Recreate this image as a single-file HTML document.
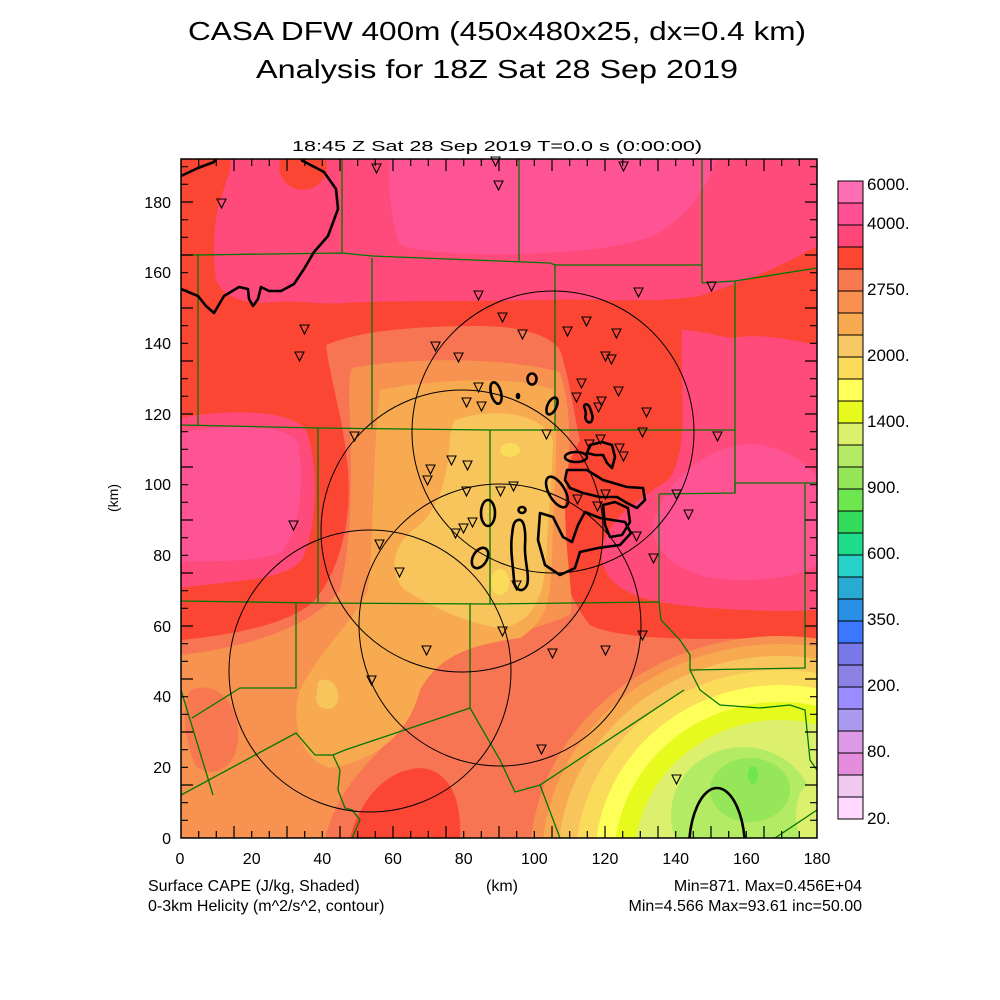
<!DOCTYPE html>
<html><head><meta charset="utf-8"><style>
html,body{margin:0;padding:0;background:#fff;width:1000px;height:1000px;overflow:hidden;}
svg{display:block;}
text{font-family:"Liberation Sans",sans-serif;fill:#000;}
</style></head><body>
<svg width="1000" height="1000" viewBox="0 0 1000 1000" xmlns="http://www.w3.org/2000/svg">
<rect width="1000" height="1000" fill="#fff"/>
<text x="497" y="40" font-size="26" text-anchor="middle" textLength="618" lengthAdjust="spacingAndGlyphs">CASA DFW 400m (450x480x25, dx=0.4 km)</text>
<text x="497" y="78" font-size="26" text-anchor="middle" textLength="482" lengthAdjust="spacingAndGlyphs">Analysis for 18Z Sat 28 Sep 2019</text>
<text x="497" y="151" font-size="15" text-anchor="middle" textLength="410" lengthAdjust="spacingAndGlyphs">18:45 Z Sat 28 Sep 2019    T=0.0 s (0:00:00)</text>
<defs><clipPath id="pc"><rect x="181" y="159" width="636" height="679"/></clipPath></defs>
<g clip-path="url(#pc)">
<rect x="181" y="159" width="636" height="679" fill="#fc4634"/>
<path fill="#ff4a7c" d="M230,159 H817 V246 C790,262 750,280 700,296 C650,304 600,298 540,300 C460,302 400,300 345,303 C320,305 300,300 275,302 C250,305 225,300 216,280 C212,250 214,215 222,195 C226,180 232,170 230,159 Z"/>
<ellipse cx="303" cy="166" rx="24" ry="24" fill="#fc4634"/>
<path fill="#ff4a7c" d="M733,338 C760,332 800,342 817,345 V610 C780,612 720,610 680,605 C640,600 608,590 602,560 C600,520 640,500 668,480 C690,450 680,400 682,330 C700,330 715,336 733,338 Z"/>
<path fill="#ff4a7c" d="M181,418 C220,410 290,408 306,430 C320,470 316,530 302,560 C282,582 230,580 181,588 Z"/>
<path fill="#ff5494" d="M389,159 H717 C705,190 690,215 653,236 C630,244 600,250 560,252 C500,256 430,255 400,245 C390,220 389,190 389,159 Z"/>
<path fill="#ff5494" d="M753,444 C790,448 817,470 817,480 V565 C800,577 760,582 720,579 C680,575 650,550 653,526 C660,490 700,445 753,444 Z"/>
<path fill="#ff5494" d="M181,432 C220,426 280,420 298,442 C305,480 300,530 282,552 C250,564 210,560 181,562 Z"/>
<path fill="#f77552" d="M181,640 C230,635 290,625 315,600 C340,570 352,520 348,470 C344,420 330,380 326,345 C360,330 420,326 480,326 C520,326 550,335 560,350 C570,380 575,420 580,440 C565,470 553,500 555,530 C560,570 570,600 590,625 C620,640 700,640 760,638 L817,640 V838 H460 C462,800 450,770 420,768 C385,770 360,800 350,838 H181 Z"/>
<path fill="#f89250" d="M181,655 C240,648 310,630 340,590 C352,540 352,480 350,420 C349,395 348,380 352,368 C400,358 500,356 560,372 C575,420 568,470 565,500 C565,560 575,600 570,615 C540,628 490,640 450,655 C420,680 400,720 380,750 C355,775 335,800 325,838 H181 Z"/>
<path fill="#f77552" d="M190,690 C215,680 240,700 238,740 C236,770 210,780 195,765 C185,740 180,710 190,690 Z" opacity="0.9"/>
<path fill="#f8aa50" d="M380,390 C440,378 520,376 553,390 C560,440 553,500 552,560 C550,600 548,620 520,638 C470,645 440,655 420,690 C410,730 380,760 330,768 C300,760 290,720 300,690 C320,650 355,620 368,590 C374,540 372,460 380,390 Z"/>
<path fill="#f8c45c" d="M455,420 C490,408 540,410 553,440 C552,480 548,520 546,560 C544,600 530,625 500,628 C460,622 430,605 405,590 C385,570 395,540 420,525 C440,505 445,480 448,460 C450,440 450,428 455,420 Z"/>
<path fill="#f8c45c" d="M318,682 C328,675 340,685 338,700 C335,712 320,712 316,700 Z"/>
<ellipse cx="510" cy="450" rx="10" ry="7" fill="#fadc5a"/>
<ellipse cx="500" cy="582" rx="9" ry="13" fill="#fadc5a"/>
<g>
<ellipse cx="780" cy="860" rx="250" ry="224" fill="#f89250"/>
<ellipse cx="780" cy="860" rx="238" ry="216" fill="#f8aa50"/>
<ellipse cx="780" cy="860" rx="222" ry="204" fill="#f8c45c"/>
<ellipse cx="780" cy="860" rx="204" ry="190" fill="#fadc5a"/>
<ellipse cx="780" cy="860" rx="185" ry="175" fill="#ffff5a"/>
<ellipse cx="780" cy="860" rx="166" ry="158" fill="#e6fa1e"/>
<ellipse cx="780" cy="860" rx="146" ry="140" fill="#dcf06e"/>
</g>
<ellipse cx="743" cy="815" rx="72" ry="68" fill="#b4eb64"/>
<ellipse cx="750" cy="790" rx="40" ry="32" fill="#96e65a"/>
<ellipse cx="753" cy="775" rx="5" ry="9" fill="#6ee650"/>
<ellipse cx="810" cy="815" rx="14" ry="30" fill="#dcf06e"/>
<g fill="none" stroke="#007800" stroke-width="1.3">
<path d="M342,159 V253 M519,159 V262 M702,159 V283"/>
<path d="M181,255 H198 L342,253 L372,256 L550,263 L555,265 L702,265"/>
<path d="M702,283 L735,281 L817,268"/>
<path d="M198,254 V425 M372,258 V428 M555,265 V430 M735,281 V493"/>
<path d="M181,425 L318,428 L490,430 L555,430 L735,430"/>
<path d="M659,494 L735,493 L735,483 L805,483 L817,483 M805,483 V668 L690,670"/>
<path d="M318,428 V602 M490,430 V604 M659,494 V602"/>
<path d="M181,601 L318,603 L490,604 L659,602 L661,620 L680,640 L690,655 L690,670 L700,690 L720,705 L760,708 L790,705 L805,710 L810,760 L817,770"/>
<path d="M470,604 V708 L345,750 L333,755 L315,755 L296,733 L181,795"/>
<path d="M296,603 V688 L240,688 L192,718"/>
<path d="M181,690 L213,795"/>
<path d="M470,708 L500,760 L515,792 L540,785 L684,690"/>
<path d="M333,755 L340,770 L338,790 L345,808 L352,810 L360,820 L352,838"/>
<path d="M540,785 L560,838"/>
<path d="M775,838 L817,810"/>
</g>
<g fill="none" stroke="#000" stroke-width="1">
<circle cx="553" cy="432" r="141"/>
<circle cx="462" cy="531" r="141"/>
<circle cx="500" cy="625" r="141"/>
<circle cx="370" cy="671" r="141"/>
</g>
<g fill="none" stroke="#000" stroke-width="2.6" stroke-linejoin="round">
<path d="M181,176 L198,168 L214,162 L216,159"/>
<path d="M301,160 L324,172 L336,189 L338,209 L328,236 L314,252 L304,269 L294,284 L281,291 L269,291 L261,287 L258,299 L253,306 L249,299 L248,289 L239,287 L224,296 L214,313 L206,306 L198,296 L181,289"/>
<ellipse cx="532" cy="379" rx="4.5" ry="5.5"/>
<ellipse cx="496" cy="393" rx="5" ry="11" transform="rotate(-15 496 393)"/>
<ellipse cx="552" cy="406" rx="4.5" ry="9" transform="rotate(25 552 406)"/>
<ellipse cx="518" cy="396" rx="1" ry="2"/>
<path d="M585,409 C582,404 588,402 590,408 C592,414 594,418 591,422 C587,424 584,418 586,414 Z"/>
<ellipse cx="576" cy="457" rx="11" ry="5"/>
<path d="M587,453 L590,445 L602,442 L612,445 L615,457 L612,468 L607,463 L603,455 L595,455 Z"/>
<path d="M567,470 L587,470 L603,480 L627,487 L643,488 L645,500 L637,508 L627,503 L617,497 L600,497 L583,493 L570,488 L565,480 Z"/>
<ellipse cx="557" cy="492" rx="8" ry="17" transform="rotate(-30 557 492)"/>
<path d="M540,513 L553,517 L563,537 L572,542 L578,525 L585,512 L600,518 L625,522 L631,533 L620,545 L598,548 L580,552 L575,568 L560,575 L545,565 L538,540 Z"/>
<path d="M603,505 L615,502 L628,508 L630,522 L622,535 L610,537 L605,525 Z"/>
<ellipse cx="488" cy="513" rx="7" ry="13"/>
<ellipse cx="480" cy="558" rx="7" ry="11" transform="rotate(30 480 558)"/>
<path d="M518,520 C524,518 526,530 525,545 C524,560 530,575 527,585 C523,594 514,590 514,580 C513,565 510,550 512,535 C513,525 514,521 518,520 Z"/>
<ellipse cx="522" cy="510" rx="3.5" ry="3"/>
<ellipse cx="717" cy="850" rx="28" ry="62"/>
</g>
</g>
<g fill="none" stroke="#000" stroke-width="1.1">
<path d="M372,164 h9 l-4.5,9 z M491,157 h9 l-4.5,9 z M494,181 h9 l-4.5,9 z M619,162 h9 l-4.5,9 z M217,199 h9 l-4.5,9 z M474,291 h9 l-4.5,9 z M498,313 h9 l-4.5,9 z M518,330 h9 l-4.5,9 z M563,327 h9 l-4.5,9 z M582,317 h9 l-4.5,9 z M612,329 h9 l-4.5,9 z M634,288 h9 l-4.5,9 z M707,282 h9 l-4.5,9 z M300,325 h9 l-4.5,9 z M295,352 h9 l-4.5,9 z M431,342 h9 l-4.5,9 z M454,353 h9 l-4.5,9 z M601,352 h9 l-4.5,9 z M607,355 h9 l-4.5,9 z M577,379 h9 l-4.5,9 z M614,387 h9 l-4.5,9 z M572,393 h9 l-4.5,9 z M474,383 h9 l-4.5,9 z M462,398 h9 l-4.5,9 z M477,402 h9 l-4.5,9 z M597,397 h9 l-4.5,9 z M594,403 h9 l-4.5,9 z M642,408 h9 l-4.5,9 z M542,430 h9 l-4.5,9 z M638,428 h9 l-4.5,9 z M713,432 h9 l-4.5,9 z M350,432 h9 l-4.5,9 z M585,440 h9 l-4.5,9 z M596,435 h9 l-4.5,9 z M615,444 h9 l-4.5,9 z M619,452 h9 l-4.5,9 z M447,456 h9 l-4.5,9 z M463,461 h9 l-4.5,9 z M426,465 h9 l-4.5,9 z M423,476 h9 l-4.5,9 z M462,487 h9 l-4.5,9 z M496,487 h9 l-4.5,9 z M509,482 h9 l-4.5,9 z M573,495 h9 l-4.5,9 z M601,490 h9 l-4.5,9 z M593,502 h9 l-4.5,9 z M672,490 h9 l-4.5,9 z M684,510 h9 l-4.5,9 z M632,532 h9 l-4.5,9 z M649,554 h9 l-4.5,9 z M289,521 h9 l-4.5,9 z M375,540 h9 l-4.5,9 z M395,568 h9 l-4.5,9 z M468,518 h9 l-4.5,9 z M459,524 h9 l-4.5,9 z M451,529 h9 l-4.5,9 z M512,581 h9 l-4.5,9 z M498,627 h9 l-4.5,9 z M422,646 h9 l-4.5,9 z M548,649 h9 l-4.5,9 z M601,646 h9 l-4.5,9 z M638,631 h9 l-4.5,9 z M367,676 h9 l-4.5,9 z M537,745 h9 l-4.5,9 z M672,775 h9 l-4.5,9 z"/>
</g>
<rect x="181" y="159" width="636" height="679" fill="none" stroke="#000" stroke-width="1.5"/>
<g stroke="#000" stroke-width="1.2">
<path d="M198.7,838v-7M216.3,838v-7M234,838v-12M251.7,838v-7M269.3,838v-7M287,838v-12M304.7,838v-7M322.3,838v-7M340,838v-12M357.7,838v-7M375.3,838v-7M393,838v-12M410.7,838v-7M428.3,838v-7M446,838v-12M463.7,838v-7M481.3,838v-7M499,838v-12M516.7,838v-7M534.3,838v-7M552,838v-12M569.7,838v-7M587.3,838v-7M605,838v-12M622.7,838v-7M640.3,838v-7M658,838v-12M675.7,838v-7M693.3,838v-7M711,838v-12M728.7,838v-7M746.3,838v-7M764,838v-12M781.7,838v-7M799.3,838v-7"/>
<path d="M198.7,159v7M216.3,159v7M234,159v12M251.7,159v7M269.3,159v7M287,159v12M304.7,159v7M322.3,159v7M340,159v12M357.7,159v7M375.3,159v7M393,159v12M410.7,159v7M428.3,159v7M446,159v12M463.7,159v7M481.3,159v7M499,159v12M516.7,159v7M534.3,159v7M552,159v12M569.7,159v7M587.3,159v7M605,159v12M622.7,159v7M640.3,159v7M658,159v12M675.7,159v7M693.3,159v7M711,159v12M728.7,159v7M746.3,159v7M764,159v12M781.7,159v7M799.3,159v7"/>
<path d="M181,820.3h7M181,802.7h7M181,785h12M181,767.3h7M181,749.7h7M181,732h12M181,714.3h7M181,696.7h7M181,679h12M181,661.3h7M181,643.7h7M181,626h12M181,608.3h7M181,590.7h7M181,573h12M181,555.3h7M181,537.7h7M181,520h12M181,502.3h7M181,484.7h7M181,467h12M181,449.3h7M181,431.7h7M181,414h12M181,396.3h7M181,378.7h7M181,361h12M181,343.3h7M181,325.7h7M181,308h12M181,290.3h7M181,272.7h7M181,255h12M181,237.3h7M181,219.7h7M181,202h12M181,184.3h7M181,166.7h7"/>
<path d="M817,820.3h-7M817,802.7h-7M817,785h-12M817,767.3h-7M817,749.7h-7M817,732h-12M817,714.3h-7M817,696.7h-7M817,679h-12M817,661.3h-7M817,643.7h-7M817,626h-12M817,608.3h-7M817,590.7h-7M817,573h-12M817,555.3h-7M817,537.7h-7M817,520h-12M817,502.3h-7M817,484.7h-7M817,467h-12M817,449.3h-7M817,431.7h-7M817,414h-12M817,396.3h-7M817,378.7h-7M817,361h-12M817,343.3h-7M817,325.7h-7M817,308h-12M817,290.3h-7M817,272.7h-7M817,255h-12M817,237.3h-7M817,219.7h-7M817,202h-12M817,184.3h-7M817,166.7h-7"/>
</g>
<g font-size="16" text-anchor="middle">
<text x="180" y="864">0</text><text x="251.7" y="864">20</text><text x="322.3" y="864">40</text><text x="393" y="864">60</text><text x="463.7" y="864">80</text><text x="534.3" y="864">100</text><text x="605" y="864">120</text><text x="675.7" y="864">140</text><text x="746.3" y="864">160</text><text x="817" y="864">180</text>
</g>
<g font-size="16" text-anchor="end">
<text x="171" y="844">0</text><text x="171" y="773">20</text><text x="171" y="702">40</text><text x="171" y="632">60</text><text x="171" y="561">80</text><text x="171" y="490">100</text><text x="171" y="420">120</text><text x="171" y="349">140</text><text x="171" y="278">160</text><text x="171" y="208">180</text>
</g>
<text x="118" y="498" font-size="14" text-anchor="middle" transform="rotate(-90 118 498)">(km)</text>
<g font-size="16">
<text x="148" y="891">Surface CAPE (J/kg, Shaded)</text>
<text x="148" y="911">0-3km Helicity (m^2/s^2, contour)</text>
<text x="486" y="891">(km)</text>
<text x="862" y="891" text-anchor="end">Min=871. Max=0.456E+04</text>
<text x="862" y="911" text-anchor="end">Min=4.566 Max=93.61 inc=50.00</text>
</g>
<g stroke="#000" stroke-width="1">
<rect x="838" y="181" width="25" height="22" fill="#ff6eb4"/>
<rect x="838" y="203" width="25" height="22" fill="#ff5096"/>
<rect x="838" y="225" width="25" height="22" fill="#ff4678"/>
<rect x="838" y="247" width="25" height="22" fill="#ff4632"/>
<rect x="838" y="269" width="25" height="22" fill="#f87850"/>
<rect x="838" y="291" width="25" height="22" fill="#f8914f"/>
<rect x="838" y="313" width="25" height="22" fill="#f8aa50"/>
<rect x="838" y="335" width="25" height="22" fill="#f8c864"/>
<rect x="838" y="357" width="25" height="22" fill="#fadc5a"/>
<rect x="838" y="379" width="25" height="22" fill="#ffff5a"/>
<rect x="838" y="401" width="25" height="22" fill="#e6fa1e"/>
<rect x="838" y="423" width="25" height="22" fill="#dcf06e"/>
<rect x="838" y="445" width="25" height="22" fill="#b4eb64"/>
<rect x="838" y="467" width="25" height="22" fill="#96e65a"/>
<rect x="838" y="489" width="25" height="22" fill="#6ee650"/>
<rect x="838" y="511" width="25" height="22" fill="#32dc5a"/>
<rect x="838" y="533" width="25" height="22" fill="#1edc8c"/>
<rect x="838" y="555" width="25" height="22" fill="#28d2c8"/>
<rect x="838" y="577" width="25" height="22" fill="#28aad2"/>
<rect x="838" y="599" width="25" height="22" fill="#2891e6"/>
<rect x="838" y="621" width="25" height="22" fill="#3c78ff"/>
<rect x="838" y="643" width="25" height="22" fill="#7878e6"/>
<rect x="838" y="665" width="25" height="22" fill="#8c82e6"/>
<rect x="838" y="687" width="25" height="22" fill="#9b8cff"/>
<rect x="838" y="709" width="25" height="22" fill="#aa9af0"/>
<rect x="838" y="731" width="25" height="22" fill="#dc9ae6"/>
<rect x="838" y="753" width="25" height="22" fill="#e68cdc"/>
<rect x="838" y="775" width="25" height="22" fill="#f0c8f0"/>
<rect x="838" y="797" width="25" height="22" fill="#ffd7ff"/>
</g>
<g font-size="17">
<text x="867" y="190">6000.</text><text x="867" y="229">4000.</text><text x="867" y="295">2750.</text><text x="867" y="361">2000.</text><text x="867" y="427">1400.</text><text x="867" y="493">900.</text><text x="867" y="559">600.</text><text x="867" y="625">350.</text><text x="867" y="691">200.</text><text x="867" y="757">80.</text><text x="867" y="824">20.</text>
</g>
</svg>
</body></html>
